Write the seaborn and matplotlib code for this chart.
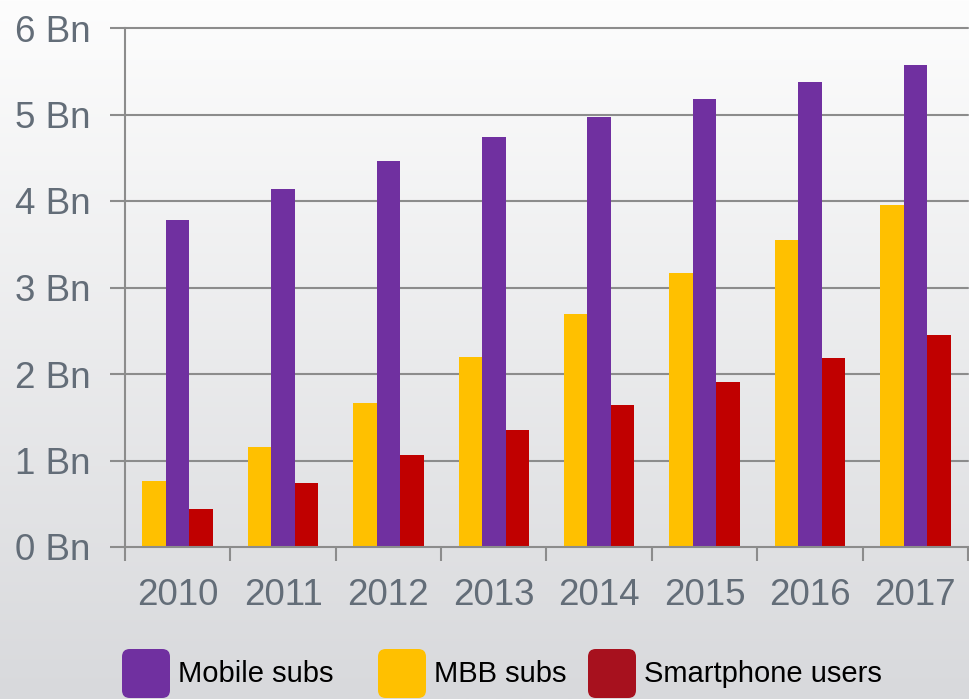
import numpy as np
import pandas as pd
import matplotlib
matplotlib.use("Agg")
import matplotlib.pyplot as plt
from matplotlib.patches import FancyBboxPatch
from matplotlib.colors import LinearSegmentedColormap
import seaborn as sns

# ---- data ----
years = ["2010", "2011", "2012", "2013", "2014", "2015", "2016", "2017"]
mobile_subs = [3.78, 4.14, 4.46, 4.74, 4.97, 5.18, 5.38, 5.57]
mbb_subs = [0.76, 1.16, 1.66, 2.20, 2.69, 3.17, 3.55, 3.95]
smartphone_users = [0.44, 0.74, 1.06, 1.35, 1.64, 1.91, 2.18, 2.45]
y_ticks = [0, 1, 2, 3, 4, 5, 6]
y_tick_labels = ["0 Bn", "1 Bn", "2 Bn", "3 Bn", "4 Bn", "5 Bn", "6 Bn"]
legend_labels = ["Mobile subs", "MBB subs", "Smartphone users"]
legend_colors = ["#7030A0", "#FFC000", "#A7111E"]
bar_order = ["MBB subs", "Mobile subs", "Smartphone users"]
bar_colors = {"MBB subs": "#FFC000", "Mobile subs": "#7030A0", "Smartphone users": "#C00000"}

df = pd.DataFrame({
    "year": years * 3,
    "series": ["Mobile subs"] * 8 + ["MBB subs"] * 8 + ["Smartphone users"] * 8,
    "value": mobile_subs + mbb_subs + smartphone_users,
})

sns.set_theme(style="white")
plt.rcParams["font.family"] = ["Liberation Sans", "DejaVu Sans"]

W, H = 970, 699
fig = plt.figure(figsize=(W / 100, H / 100), dpi=100)

# background gradient
bg = fig.add_axes([0, 0, 1, 1], zorder=-10)
cmap = LinearSegmentedColormap.from_list("bg", ["#fdfdfd", "#d8d9dc"])
grad = np.linspace(0, 1, 256).reshape(-1, 1)
bg.imshow(grad, aspect="auto", cmap=cmap, extent=[0, 1, 0, 1], origin="upper")
bg.axis("off")

ax = fig.add_axes([125 / W, 1 - 547 / H, (968 - 125) / W, (547 - 28) / H])
ax.patch.set_alpha(0)

sns.barplot(data=df, x="year", y="value", hue="series", hue_order=bar_order,
            palette=bar_colors, width=0.67, gap=0, dodge=True, ax=ax,
            legend=False, saturation=1, edgecolor="none", zorder=3)

ax.set_xlim(-0.5, 7.5)
ax.set_ylim(0, 6)
ax.set_xlabel("")
ax.set_ylabel("")

grid_c = "#8c8c8c"
ax.set_yticks(y_ticks)
ax.set_yticklabels(y_tick_labels)
for yv in y_ticks[1:]:
    ax.axhline(yv, color=grid_c, lw=1.5, zorder=1, clip_on=False)

ax.set_xticks(range(len(years)))
ax.set_xticklabels(years)
ax.set_xticks(np.arange(-0.5, 8, 1), minor=True)
ax.tick_params(axis="x", which="major", length=0, pad=22, labelsize=26.5, labelcolor="#636d78")
ax.tick_params(axis="x", which="minor", length=10, width=1.5, color=grid_c, direction="out")
ax.tick_params(axis="y", which="major", length=11, width=1.5, color=grid_c, direction="out",
               pad=14, labelsize=26.5, labelcolor="#636d78")
ax.xaxis.set_ticks_position("bottom")
ax.yaxis.set_ticks_position("left")

for s in ["top", "right"]:
    ax.spines[s].set_visible(False)
for s in ["left", "bottom"]:
    ax.spines[s].set_color(grid_c)
    ax.spines[s].set_linewidth(1.5)
    ax.spines[s].set_zorder(4)

# legend (custom, rounded swatches)
patch_x = [122, 378, 588]
for lx, lab, col in zip(patch_x, legend_labels, legend_colors):
    p = FancyBboxPatch((lx / W, 1 - 698 / H), 48 / W, 49 / H,
                       boxstyle="round,pad=0,rounding_size=0.008",
                       transform=fig.transFigure, facecolor=col, edgecolor="none",
                       mutation_aspect=W / H)
    fig.patches.append(p)
    fig.text((lx + 56) / W, 1 - 674 / H, lab, fontsize=21, color="black",
             ha="left", va="center")

fig.savefig("out.png", dpi=100)
